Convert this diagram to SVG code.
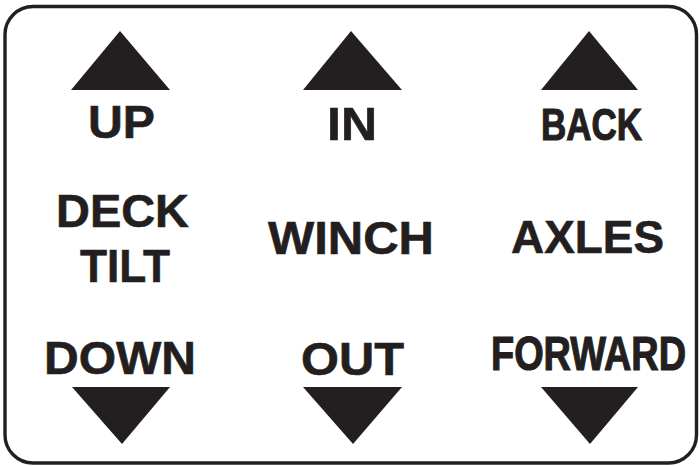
<svg xmlns="http://www.w3.org/2000/svg" width="699" height="466" viewBox="0 0 699 466">
<style>
.lbl{font-family:"Liberation Sans",Arial,Helvetica,sans-serif;font-weight:bold;font-size:47px;fill:#231f20;stroke:#231f20;stroke-width:0.6;text-anchor:middle}
.cond{stroke-width:1.2}
.tri{fill:#231f20}
.frame{fill:#ffffff;stroke:#231f20;stroke-width:3.4}
</style>
<rect x="0" y="0" width="699" height="466" fill="#ffffff"/>
<rect class="frame" x="5" y="6.5" width="691.5" height="456.5" rx="28" ry="28"/>
<g id="up">
<polygon class="tri" points="120,31 71,90 170,90"/>
<text class="lbl" x="121.5" y="138" textLength="67" lengthAdjust="spacingAndGlyphs">UP</text>
</g>
<g id="in">
<polygon class="tri" points="351,31 303,90 402,90"/>
<text class="lbl" x="352" y="140" textLength="50" lengthAdjust="spacingAndGlyphs">IN</text>
</g>
<g id="back">
<polygon class="tri" points="589,31 541,90 638,90"/>
<text class="lbl cond" x="591.5" y="140" style="font-size:45px" textLength="101" lengthAdjust="spacingAndGlyphs">BACK</text>
</g>
<g id="deck-tilt">
<text class="lbl" x="122.5" y="227" textLength="133" lengthAdjust="spacingAndGlyphs">DECK</text>
<text class="lbl" x="125" y="282" textLength="90" lengthAdjust="spacingAndGlyphs">TILT</text>
</g>
<g id="winch">
<text class="lbl" x="351" y="254" textLength="166" lengthAdjust="spacingAndGlyphs">WINCH</text>
</g>
<g id="axles">
<text class="lbl" x="587.5" y="253" textLength="153" lengthAdjust="spacingAndGlyphs">AXLES</text>
</g>
<g id="down">
<text class="lbl" x="120" y="374" textLength="152" lengthAdjust="spacingAndGlyphs">DOWN</text>
<polygon class="tri" points="72,387 170,387 122,444"/>
</g>
<g id="out">
<text class="lbl" x="352.5" y="375" textLength="103" lengthAdjust="spacingAndGlyphs">OUT</text>
<polygon class="tri" points="303,387 402,387 353,444"/>
</g>
<g id="forward">
<text class="lbl cond" x="588.5" y="370" style="font-size:49px" textLength="195" lengthAdjust="spacingAndGlyphs">FORWARD</text>
<polygon class="tri" points="541,387 638,387 590,444"/>
</g>
</svg>
